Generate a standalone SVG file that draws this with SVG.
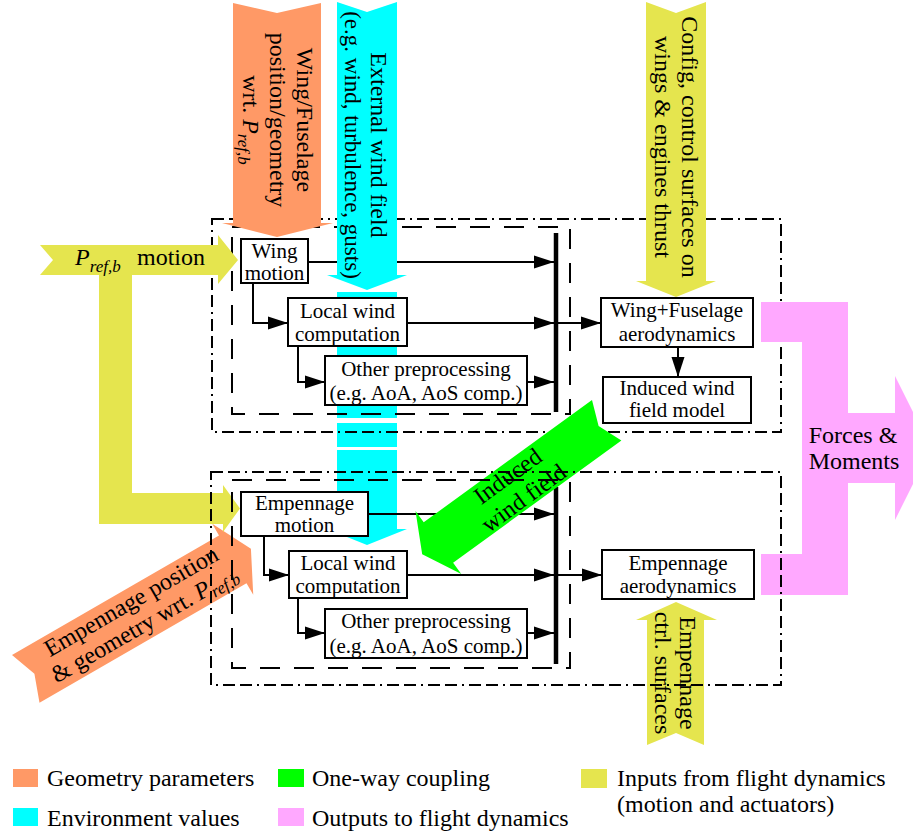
<svg xmlns="http://www.w3.org/2000/svg" width="913" height="836" viewBox="0 0 913 836">
<style>
.box{fill:#fff;stroke:#000;stroke-width:2}
.ln{fill:none;stroke:#000;stroke-width:2}
.arr{marker-end:url(#ah)}
.bar{stroke:#000;stroke-width:4.5;fill:none}
.dd{fill:none;stroke:#000;stroke-width:2;stroke-dasharray:12 5 12 5 2 5}
.ds{fill:none;stroke:#000;stroke-width:2;stroke-dasharray:20 14}
text{font-family:"Liberation Serif","Times New Roman",serif;fill:#000}
.t{font-size:21px;text-anchor:middle}
.b{font-size:24px}
.c{text-anchor:middle}
.it{font-style:italic}
.orange{fill:#FF9966}
.cyan{fill:#00FFFF}
.yellow{fill:#E5E54E}
.green{fill:#00FF00}
.pink{fill:#FFA8FF}
</style>
<defs>
<marker id="ah" markerUnits="userSpaceOnUse" markerWidth="20" markerHeight="14" refX="20" refY="7" orient="auto">
<path d="M0,0.5 L20,7 L0,13.5 z" fill="#000"/>
</marker>
</defs>
<rect width="913" height="836" fill="#fff"/>

<!-- cyan bands under everything -->
<g id="env-wind-lower">
<rect class="cyan" x="337" y="292" width="60" height="126"/>
<rect class="cyan" x="337" y="423" width="60" height="24"/>
<polygon class="cyan" points="337,450 397,450 397,529 407,529 367,545 327,529 337,529"/>
</g>

<!-- bottom-left orange arrow -->
<g id="empennage-geometry">
<polygon class="orange" transform="translate(12,655) rotate(-30)" points="0,0 239,0 239,-13.5 260,27.5 239,68.5 239,55 0,55 10,27.5"/>
<text class="b c" transform="translate(12,655) rotate(-30)"><tspan x="130" y="21">Empennage position</tspan><tspan x="130" y="47">&amp; geometry wrt. <tspan class="it">P</tspan><tspan class="it" font-size="17" dy="5">ref,b</tspan></tspan></text>
</g>

<!-- top section -->
<g id="wing-section">
<rect class="dd" x="212" y="219" width="569" height="213"/>
<rect class="ds" x="232" y="227" width="338" height="187"/>
</g>

<g id="connectors">
<line class="bar" x1="556" y1="233" x2="556" y2="412"/>
<path class="ln arr" d="M308,262 H554"/>
<path class="ln arr" d="M253,283 V323 H288"/>
<path class="ln arr" d="M407,323 H554"/>
<path class="ln arr" d="M298,346 V382 H325"/>
<path class="ln arr" d="M527,382 H554"/>
<path class="ln arr" d="M556,323 H601"/>
<path class="ln arr" d="M678,347 V377"/>

<line class="bar" x1="556" y1="487" x2="556" y2="664"/>
<path class="ln arr" d="M368,514 H554"/>
<path class="ln arr" d="M264,536 V575 H289"/>
<path class="ln arr" d="M407,575 H554"/>
<path class="ln arr" d="M298,598 V633 H325"/>
<path class="ln arr" d="M527,633 H554"/>
<path class="ln arr" d="M556,575 H602"/>
</g>

<g id="wing-motion">
<rect class="box" x="241" y="239" width="67" height="44"/>
<text class="t"><tspan x="274.5" y="258">Wing</tspan><tspan x="274.5" y="280">motion</tspan></text>
</g>
<g id="wing-local-wind">
<rect class="box" x="288" y="298" width="119" height="48"/>
<text class="t"><tspan x="347.5" y="318">Local wind</tspan><tspan x="347.5" y="341">computation</tspan></text>
</g>
<g id="wing-preprocessing">
<rect class="box" x="325" y="356" width="202" height="49"/>
<text class="t"><tspan x="426" y="376">Other preprocessing</tspan><tspan x="426" y="400">(e.g. AoA, AoS comp.)</tspan></text>
</g>
<g id="wing-fuselage-aero">
<rect class="box" x="601" y="298" width="152" height="49"/>
<text class="t"><tspan x="677" y="317">Wing+Fuselage</tspan><tspan x="677" y="341">aerodynamics</tspan></text>
</g>
<g id="induced-wind-model">
<rect class="box" x="603" y="377" width="148" height="46"/>
<text class="t"><tspan x="677" y="395">Induced wind</tspan><tspan x="677" y="417">field model</tspan></text>
</g>

<g id="empennage-motion">
<rect class="box" x="241" y="492" width="127" height="44"/>
<text class="t"><tspan x="304.5" y="510">Empennage</tspan><tspan x="304.5" y="532">motion</tspan></text>
</g>
<g id="emp-local-wind">
<rect class="box" x="289" y="551" width="118" height="47"/>
<text class="t"><tspan x="348" y="570">Local wind</tspan><tspan x="348" y="593">computation</tspan></text>
</g>
<g id="emp-preprocessing">
<rect class="box" x="325" y="609" width="202" height="49"/>
<text class="t"><tspan x="426" y="628">Other preprocessing</tspan><tspan x="426" y="653">(e.g. AoA, AoS comp.)</tspan></text>
</g>
<g id="empennage-aero">
<rect class="box" x="602" y="550" width="152" height="49"/>
<text class="t"><tspan x="678" y="570">Empennage</tspan><tspan x="678" y="593">aerodynamics</tspan></text>
</g>

<!-- big arrows on top -->
<g id="external-wind">
<polygon class="cyan" points="337,2 367,12 397,2 397,275 407,275 367,290 327,275 337,275"/>
<text class="b c" transform="translate(367,145) rotate(90)"><tspan x="0" y="-4">External wind field</tspan><tspan x="0" y="22" font-size="23">(e.g. wind, turbulence, gusts)</tspan></text>
</g>
<g id="wing-geometry">
<polygon class="orange" points="233,3 277,13 321,3 321,223 333,223 277,237 222,223 233,223"/>
<text class="b c" transform="translate(277,120) rotate(90)"><tspan x="0" y="-20">Wing/Fuselage</tspan><tspan x="0" y="7">position/geometry</tspan><tspan x="0" y="34">wrt. <tspan class="it">P</tspan><tspan class="it" font-size="17" dy="5">ref,b</tspan></tspan></text>
</g>
<g id="wing-config">
<polygon class="yellow" points="646,2 676,13 706,2 706,281 716,281 676,297 636,281 646,281"/>
<text class="b c" transform="translate(676,147) rotate(90)"><tspan x="0" y="-6">Config, control surfaces on</tspan><tspan x="0" y="21">wings &amp; engines thrust</tspan></text>
</g>
<g id="empennage-ctrl">
<polygon class="yellow" points="676,602 717,620 704,620 704,745 676,733 647,745 647,620 636,620"/>
<text class="b c" transform="translate(676,673) rotate(90)"><tspan x="0" y="-4">Empennage</tspan><tspan x="0" y="21">ctrl. surfaces</tspan></text>
</g>
<g id="pref-motion">
<polygon class="yellow" points="40,245 218,245 218,235 238,260 218,284 218,275 132,275 132,493 223,493 223,485 240,508.5 223,532 223,524 99,524 99,275 40,275 53,260"/>
<text class="b" x="75" y="265"><tspan class="it">P</tspan><tspan class="it" font-size="17" dy="7">ref,b</tspan></text>
<text class="b" x="137" y="265">motion</text>
</g>
<g id="forces-moments">
<polygon class="pink" points="761,302 848,302 848,413 895,413 895,376 931,448 895,520 895,483 848,483 848,595 761,595 761,554 802,554 802,342 761,342"/>
<text class="b c"><tspan x="853" y="443">Forces &amp;</tspan><tspan x="854" y="469">Moments</tspan></text>
</g>
<g id="induced-wind-field">
<polygon class="green" points="592,400 598.6,426.1 621.4,440.5 453.1,562.7 461.3,574.1 422.2,554.3 415.5,511 423.7,522.3"/>
<text class="b c" transform="translate(512.4,482.6) rotate(-36)"><tspan x="0" y="0">Induced</tspan><tspan x="0" y="27">wind field</tspan></text>
</g>

<g id="empennage-section">
<rect class="dd" x="211" y="472" width="570" height="213"/>
<rect class="ds" x="232" y="480" width="338" height="188"/>
</g>

<g id="legend">
<rect class="orange" x="13" y="769" width="25" height="18"/>
<text class="b" x="47" y="786">Geometry parameters</text>
<rect class="cyan" x="13" y="808" width="25" height="18"/>
<text class="b" x="47" y="826">Environment values</text>
<rect class="green" x="278" y="769" width="26" height="18"/>
<text class="b" x="312" y="786">One-way coupling</text>
<rect class="pink" x="278" y="808" width="26" height="18"/>
<text class="b" x="312" y="826">Outputs to flight dynamics</text>
<rect class="yellow" x="581" y="769" width="26" height="19"/>
<text class="b" x="617" y="786">Inputs from flight dynamics</text>
<text class="b" x="617" y="812">(motion and actuators)</text>
</g>
</svg>
